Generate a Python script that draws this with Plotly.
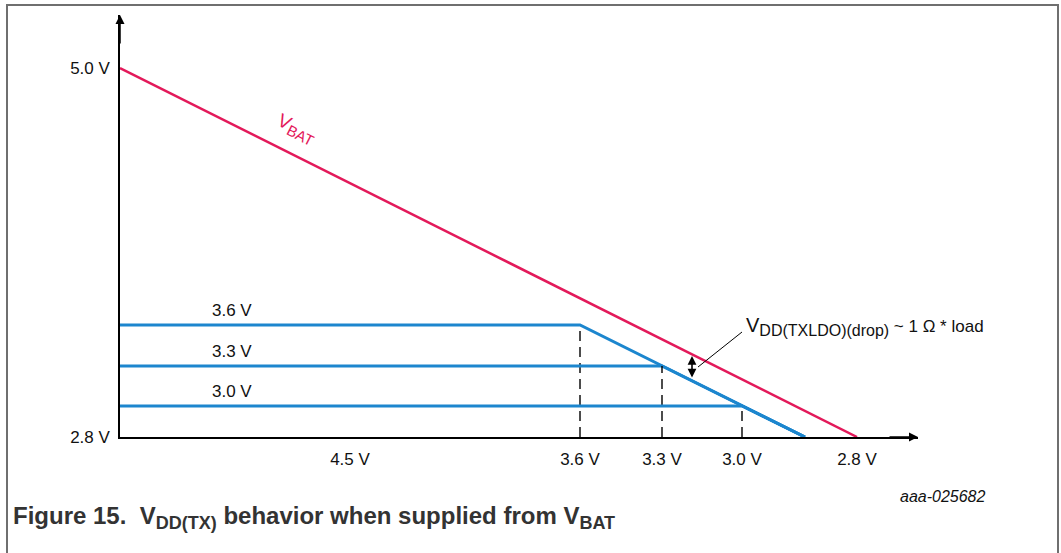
import plotly.graph_objects as go

# Schematic units (the drawing is not to scale): origin at the axis corner
vbat_x = [0, 737]
vbat_y = [369, 0]
level_names = ["3.6 V", "3.3 V", "3.0 V"]
level_y = [112, 71, 31]
level_knee_x = [460, 542, 622]
dropout_axis_x = 685
x_tick_pos = [230, 460, 542, 622, 737]
x_tick_text = ["4.5 V", "3.6 V", "3.3 V", "3.0 V", "2.8 V"]
y_tick_pos = [0, 369]
y_tick_text = ["2.8 V", "5.0 V"]
x_axis_end = 798
y_axis_end = 422
drop_arrow_x = 572
drop_arrow_y = [58, 81]
level_label_x = 112

RED = "#E3195A"
BLUE = "#1C86CE"
FONT = "Liberation Sans, Arial, sans-serif"

W, H = 1061, 553
ML, MR, MT, MB = 120, 143, 15, 116
PW, PH = W - ML - MR, H - MT - MB


def px(x):
    return (x - ML) / PW


def py(y):
    return (H - MB - y) / PH


fig = go.Figure()

fig.add_trace(go.Scatter(x=vbat_x, y=vbat_y, mode="lines",
                         line=dict(color=RED, width=2.5), hoverinfo="skip"))

for name, lvl, knee in zip(level_names, level_y, level_knee_x):
    fig.add_trace(go.Scatter(x=[0, knee, dropout_axis_x], y=[lvl, lvl, 0], mode="lines",
                             line=dict(color=BLUE, width=3), name=name, hoverinfo="skip"))
    fig.add_trace(go.Scatter(x=[knee, knee], y=[0, lvl], mode="lines",
                             line=dict(color="black", width=1.4, dash="10px,6px"),
                             hoverinfo="skip"))
    fig.add_annotation(x=level_label_x, y=lvl, yshift=15, text=name, showarrow=False,
                       font=dict(size=17, color="#111", family=FONT))

# axis arrowheads
fig.add_annotation(x=x_axis_end, y=0, ax=x_axis_end - 30, ay=0, axref="x", ayref="y",
                   text="", showarrow=True, arrowhead=2, arrowwidth=1.5, arrowsize=1.2,
                   arrowcolor="black")
fig.add_annotation(x=0, y=y_axis_end, ax=0, ay=y_axis_end - 30, axref="x", ayref="y",
                   text="", showarrow=True, arrowhead=2, arrowwidth=1.5, arrowsize=1.2,
                   arrowcolor="black")

# dropout double arrow
fig.add_annotation(x=drop_arrow_x, y=drop_arrow_y[1], ax=drop_arrow_x, ay=drop_arrow_y[0],
                   axref="x", ayref="y", text="", showarrow=True, arrowhead=2,
                   startarrowhead=2, arrowside="end+start", arrowwidth=1.6,
                   arrowsize=1.1, startarrowsize=1.1, arrowcolor="black")
fig.add_shape(type="line", x0=578, y0=70, x1=622, y1=105,
              line=dict(color="black", width=1))
fig.add_annotation(x=624, y=111, xanchor="left", yanchor="middle", showarrow=False,
                   text="<span style='font-size:20px'>V</span><sub><span style='font-size:16px'>DD(TXLDO)(drop)</span></sub> ~ 1 Ω * load",
                   font=dict(size=17, color="#111", family=FONT))

# V_BAT label
fig.add_annotation(x=176, y=308, showarrow=False, textangle=27,
                   text="V<sub><span style='font-size:15px'>BAT</span></sub>",
                   font=dict(size=19, color=RED, family=FONT))

# figure frame
fig.add_shape(type="path", xref="paper", yref="paper",
              path=f"M {px(7)},{py(560)} L {px(7)},{py(5)} L {px(1058)},{py(5)} L {px(1058)},{py(560)}",
              line=dict(color="#6f6f6f", width=2))

fig.add_annotation(xref="paper", yref="paper", x=px(988), y=py(496), xanchor="right",
                   yanchor="middle", showarrow=False, text="<i>aaa-025682</i>",
                   font=dict(size=16, color="#111", family=FONT))
fig.add_annotation(xref="paper", yref="paper", x=px(11), y=py(517), xanchor="left",
                   yanchor="middle", showarrow=False,
                   text="<b>Figure 15.  V<sub><span style='font-size:18px'>DD(TX)</span></sub> behavior when supplied from V<sub><span style='font-size:18px'>BAT</span></sub></b>",
                   font=dict(size=24, color="#333333", family=FONT))

fig.update_xaxes(range=[0, x_axis_end], showgrid=False, zeroline=False, showline=True,
                 linecolor="black", linewidth=1.5, tickvals=x_tick_pos, ticktext=x_tick_text,
                 ticks="", ticklabelstandoff=6, tickfont=dict(size=17, color="#111", family=FONT),
                 fixedrange=True)
fig.update_yaxes(range=[0, y_axis_end], showgrid=False, zeroline=False, showline=True,
                 linecolor="black", linewidth=1.5, tickvals=y_tick_pos, ticktext=y_tick_text,
                 ticks="", ticklabelstandoff=5, tickfont=dict(size=17, color="#111", family=FONT),
                 fixedrange=True)

fig.update_layout(width=W, height=H, margin=dict(l=ML, r=MR, t=MT, b=MB),
                  plot_bgcolor="white", paper_bgcolor="white", showlegend=False,
                  font=dict(family=FONT))

fig.write_html("out.html", config={"displayModeBar": False},
               post_script="document.body.style.margin='0';document.body.style.overflow='hidden';")
